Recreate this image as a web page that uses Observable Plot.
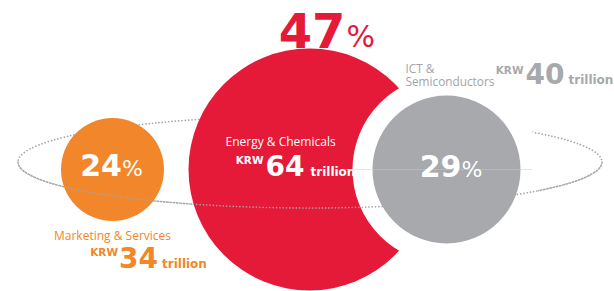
<!DOCTYPE html>
<html><head><meta charset="utf-8">
<script src="https://cdn.jsdelivr.net/npm/d3@7"></script>
<script src="https://cdn.jsdelivr.net/npm/@observablehq/plot@0.6"></script>
<style>
html,body{margin:0;padding:0;background:#fff;}
svg{display:block}
</style></head><body>
<div id="chart"></div>
<script>
// ---- data ----
const segments = ["Marketing & Services", "Energy & Chemicals", "ICT & Semiconductors"];
const shares = [24, 47, 29];      // share of total, %
const revenues = [34, 64, 40];    // KRW trillion
const currency = "KRW";
const unit = "trillion";
const colors = ["#f2862a", "#e41a38", "#a7a9ac"];

const data = segments.map((segment, i) => ({segment, share: shares[i], revenue: revenues[i]}));

// ---- layout (styling / placement, not data) ----
const W = 614, H = 291;
const numFont = "'DejaVu Sans', sans-serif";
const txtFont = "'Open Sans', sans-serif";
const nudge = {"Marketing & Services": 0, "Energy & Chemicals": 30, "ICT & Semiconductors": 0};
const layout = {
  "Marketing & Services": {
    pct: {dx: 9.5, dy: 6, size: 30, psize: 22, pdx: 9.5, pdy: 6, fill: "#fff"},
    name: {dx: -58.5, dy: 70, fill: "#f2862a"},
    krw: {dx: 5.5, dy: 86}, val: {dx: 6.5, dy: 98}, unit: {dx: 49.5, dy: 98}, vfill: "#f2862a"
  },
  "Energy & Chemicals": {
    pct: {dx: 36, dy: -122, size: 48, psize: 30, pdx: 37, pdy: -123, fill: "#e41a38"},
    name: {dx: -84, dy: -24, fill: "#fff"},
    krw: {dx: -46, dy: -6}, val: {dx: -44, dy: 6}, unit: {dx: 1, dy: 6}, vfill: "#fff"
  },
  "ICT & Semiconductors": {
    pct: {dx: 15, dy: 7, size: 30, psize: 22, pdx: 15, pdy: 7, fill: "#fff"},
    name: {dx: -41, dy: -84, fill: "#a2a4a7", wrap: true, size: 11.8, lh: 1.08},
    krw: {dx: 77, dy: -96}, val: {dx: 79, dy: -86}, unit: {dx: 122, dy: -86}, vfill: "#a7a9ac"
  }
};

function part(seg, text, o) {
  return Plot.text(data.filter(d => d.segment === seg), {
    x: "segment", text, dx: o.dx + nudge[seg], dy: o.dy,
    textAnchor: o.anchor ?? "start", lineAnchor: "bottom", lineHeight: o.lh ?? 1,
    fontSize: o.size, fontWeight: o.weight ?? "normal", fontFamily: o.font ?? numFont, fill: o.fill
  });
}

function bubble(seg, opts = {}) {
  return Plot.dot(data.filter(d => d.segment === seg), {
    x: "segment", r: "revenue", dx: nudge[seg], fill: "segment", ...opts
  });
}

// orbit (decorative dotted ellipse)
const orbit = {cx: W / 2 + 3, cy: 162, rx: 292, ry: 46};
const dotStyle = g => g.attr("fill", "none").attr("stroke", "#a3a5a8").attr("stroke-width", 1.7)
  .attr("stroke-linecap", "round").attr("stroke-dasharray", "0.01 3.3");
function orbitBack() {
  const g = d3.create("svg:g");
  g.append("ellipse").attr("cx", orbit.cx).attr("cy", orbit.cy).attr("rx", orbit.rx).attr("ry", orbit.ry).call(dotStyle);
  return g.node();
}
function orbitFront() {
  const g = d3.create("svg:g");
  g.append("path")
    .attr("d", `M${orbit.cx - orbit.rx},${orbit.cy}A${orbit.rx},${orbit.ry} 0 0 0 ${orbit.cx + orbit.rx},${orbit.cy}`)
    .call(dotStyle);
  return g.node();
}
function faintLine() {
  const g = d3.create("svg:g");
  g.append("line").attr("x1", 345).attr("x2", 532).attr("y1", 169.5).attr("y2", 169.5)
    .attr("stroke", "#dcc3c8").attr("stroke-width", 0.8).attr("opacity", 0.6);
  return g.node();
}

const marks = [
  orbitBack,
  bubble(segments[0]),
  bubble(segments[1]),
  bubble(segments[2], {fill: "white", stroke: "white", strokeWidth: 40}),
  orbitFront,
  bubble(segments[2]),
  faintLine
];

for (const seg of segments) {
  const L = layout[seg];
  marks.push(
    part(seg, d => `${d.share}`, {dx: L.pct.dx, dy: L.pct.dy, size: L.pct.size, weight: "bold", fill: L.pct.fill, anchor: "end"}),
    part(seg, () => "%", {dx: L.pct.pdx, dy: L.pct.pdy, size: L.pct.psize, fill: L.pct.fill}),
    part(seg, d => L.name.wrap ? d.segment.replace("& ", "&\n") : d.segment,
      {dx: L.name.dx, dy: L.name.dy, size: L.name.size ?? 12, font: txtFont, fill: L.name.fill, lh: L.name.lh}),
    part(seg, () => currency, {dx: L.krw.dx, dy: L.krw.dy, size: 10.5, weight: "bold", fill: L.vfill, anchor: "end"}),
    part(seg, d => `${d.revenue}`, {dx: L.val.dx, dy: L.val.dy, size: 28, weight: "bold", fill: L.vfill}),
    part(seg, () => unit, {dx: L.unit.dx, dy: L.unit.dy, size: 12, weight: "bold", fill: L.vfill})
  );
}

const chart = Plot.plot({
  width: W, height: H,
  marginTop: 47, marginBottom: 0, marginLeft: 0, marginRight: 0,
  x: {type: "point", domain: segments, range: [111.5, 447], padding: 0, axis: null},
  r: {type: "linear", domain: [34, 40, 64], range: [51.5, 74, 121]},
  color: {domain: segments, range: colors},
  style: {background: "white", overflow: "visible"},
  marks
});
document.getElementById("chart").appendChild(chart);
</script>
</body></html>
